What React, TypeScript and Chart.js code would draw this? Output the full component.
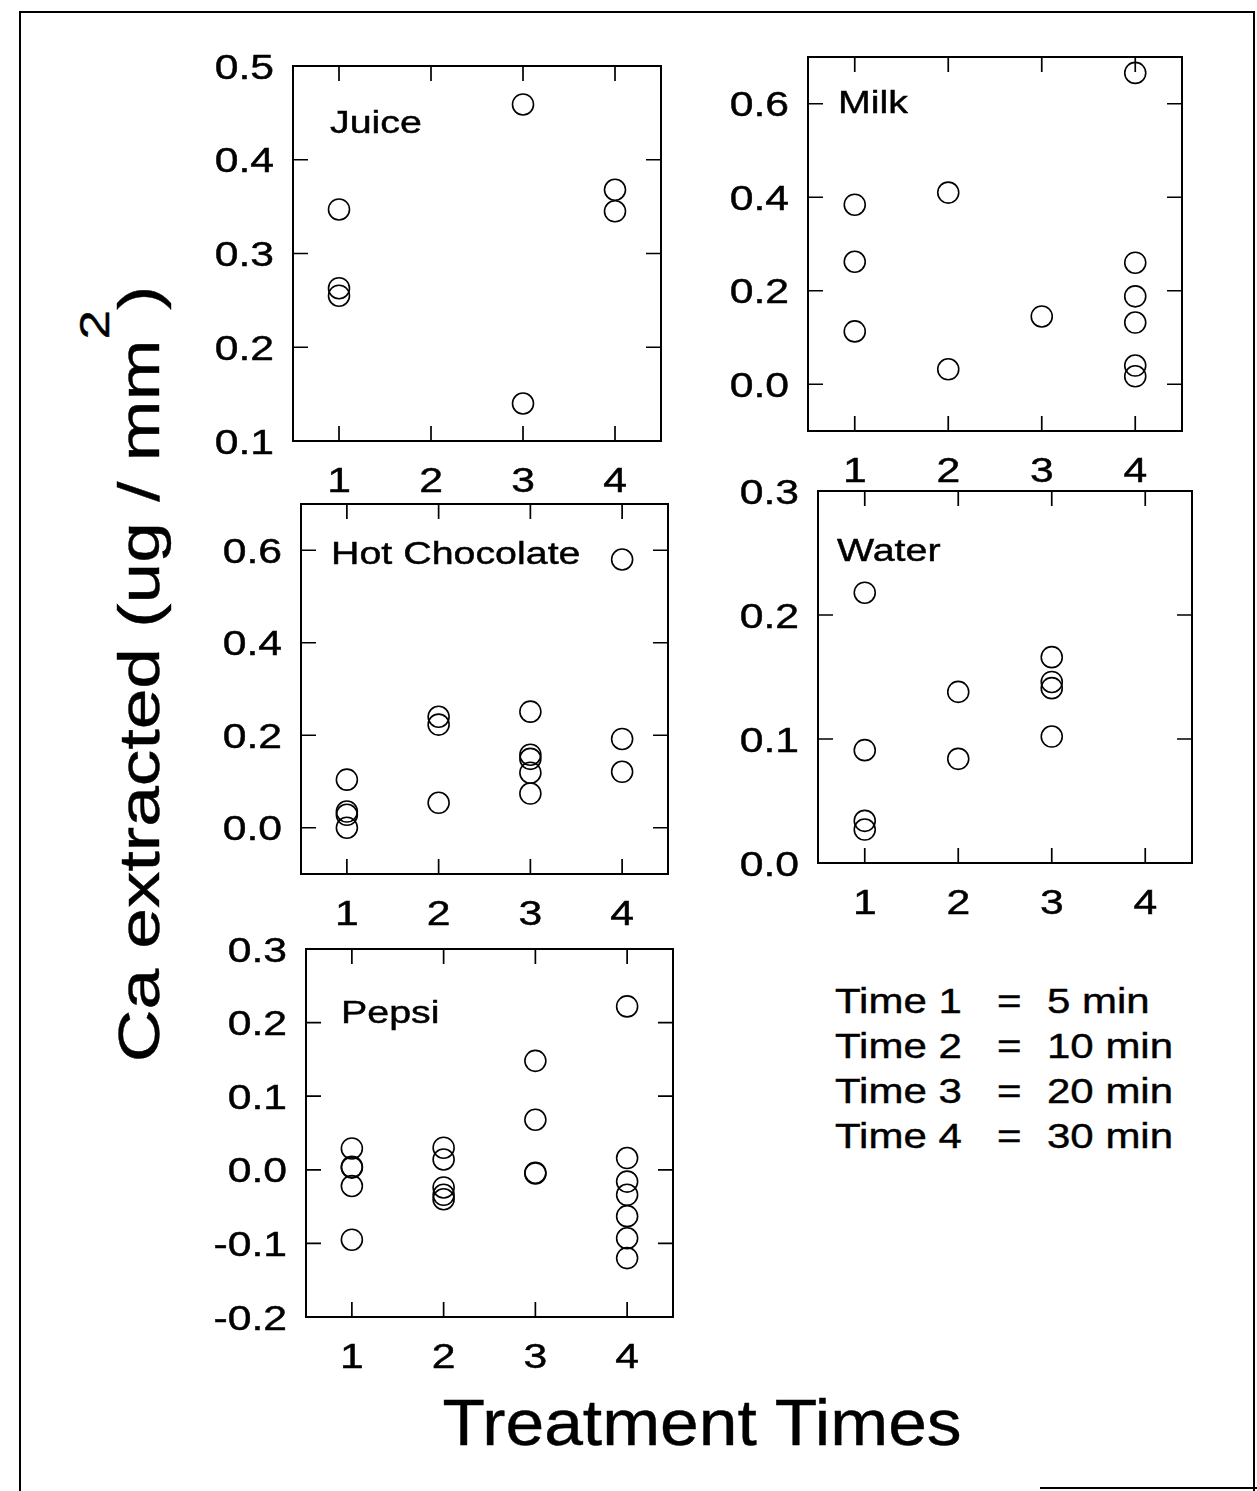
import React, { useEffect, useRef } from "react";
import { Chart, registerables } from "chart.js";

Chart.register(...registerables);

// ---------- data ----------
const xTicks = [1, 2, 3, 4];
const xTickLabels = ["1", "2", "3", "4"];

const juiceTimes = [1, 1, 1, 3, 3, 4, 4];
const juiceValues = [0.347, 0.263, 0.255, 0.459, 0.14, 0.368, 0.345];
const juiceYTicks = [0.1, 0.2, 0.3, 0.4, 0.5];
const juiceYLabels = ["0.1", "0.2", "0.3", "0.4", "0.5"];
const juiceYRange = [0.1, 0.5];

const milkTimes = [1, 1, 1, 2, 2, 3, 4, 4, 4, 4, 4, 4];
const milkValues = [0.384, 0.262, 0.113, 0.41, 0.032, 0.145, 0.666, 0.26, 0.188, 0.132, 0.04, 0.017];
const milkYTicks = [0.0, 0.2, 0.4, 0.6];
const milkYLabels = ["0.0", "0.2", "0.4", "0.6"];
const milkYRange = [-0.1, 0.7];

const hotTimes = [1, 1, 1, 1, 2, 2, 2, 3, 3, 3, 3, 3, 4, 4, 4];
const hotValues = [0.104, 0.035, 0.028, 0.0, 0.24, 0.223, 0.054, 0.251, 0.158, 0.149, 0.119, 0.074, 0.58, 0.192, 0.121];
const hotYTicks = [0.0, 0.2, 0.4, 0.6];
const hotYLabels = ["0.0", "0.2", "0.4", "0.6"];
const hotYRange = [-0.1, 0.7];

const waterTimes = [1, 1, 1, 1, 2, 2, 3, 3, 3, 3];
const waterValues = [0.218, 0.091, 0.034, 0.027, 0.138, 0.084, 0.166, 0.146, 0.141, 0.102];
const waterYTicks = [0.0, 0.1, 0.2, 0.3];
const waterYLabels = ["0.0", "0.1", "0.2", "0.3"];
const waterYRange = [0.0, 0.3];

const pepsiTimes = [1, 1, 1, 1, 1, 2, 2, 2, 2, 2, 3, 3, 3, 3, 4, 4, 4, 4, 4, 4, 4];
const pepsiValues = [
  0.029, 0.004, 0.003, -0.022, -0.095,
  0.03, 0.014, -0.024, -0.034, -0.04,
  0.148, 0.068, -0.004, -0.005,
  0.222, 0.016, -0.016, -0.034, -0.063, -0.093, -0.12,
];
const pepsiYTicks = [-0.2, -0.1, 0.0, 0.1, 0.2, 0.3];
const pepsiYLabels = ["-0.2", "-0.1", "0.0", "0.1", "0.2", "0.3"];
const pepsiYRange = [-0.2, 0.3];

const legendTimes = ["Time 1", "Time 2", "Time 3", "Time 4"];
const legendDurations = ["5 min", "10 min", "20 min", "30 min"];

// ---------- layout ----------
const FONT = '"Liberation Sans", Arial, Helvetica, sans-serif';
const PAD = { left: 110, top: 25, right: 25, bottom: 65 };

type PanelDef = {
  title: string;
  times: number[];
  values: number[];
  yTicks: number[];
  yLabels: string[];
  yRange: number[];
  frame: { left: number; top: number; right: number; bottom: number };
  titleOffset: { dx: number; dy: number };
};

const panels: PanelDef[] = [
  { title: "Juice", times: juiceTimes, values: juiceValues, yTicks: juiceYTicks, yLabels: juiceYLabels, yRange: juiceYRange,
    frame: { left: 293, top: 66, right: 661, bottom: 441 }, titleOffset: { dx: 37, dy: 67 } },
  { title: "Milk", times: milkTimes, values: milkValues, yTicks: milkYTicks, yLabels: milkYLabels, yRange: milkYRange,
    frame: { left: 808, top: 57, right: 1182, bottom: 431 }, titleOffset: { dx: 30, dy: 56 } },
  { title: "Hot Chocolate", times: hotTimes, values: hotValues, yTicks: hotYTicks, yLabels: hotYLabels, yRange: hotYRange,
    frame: { left: 301, top: 504, right: 668, bottom: 874 }, titleOffset: { dx: 30, dy: 60 } },
  { title: "Water", times: waterTimes, values: waterValues, yTicks: waterYTicks, yLabels: waterYLabels, yRange: waterYRange,
    frame: { left: 818, top: 491, right: 1192, bottom: 863 }, titleOffset: { dx: 19, dy: 70 } },
  { title: "Pepsi", times: pepsiTimes, values: pepsiValues, yTicks: pepsiYTicks, yLabels: pepsiYLabels, yRange: pepsiYRange,
    frame: { left: 306, top: 949, right: 673, bottom: 1317 }, titleOffset: { dx: 35, dy: 74 } },
];

function drawStretched(ctx: CanvasRenderingContext2D, text: string, x: number, y: number, sx: number, align: CanvasTextAlign) {
  ctx.save();
  ctx.translate(x, y);
  ctx.scale(sx, 1);
  ctx.textAlign = align;
  ctx.textBaseline = "alphabetic";
  ctx.lineWidth = 0.45;
  ctx.strokeStyle = "#000";
  ctx.fillText(text, 0, 0);
  ctx.strokeText(text, 0, 0);
  ctx.restore();
}

function Panel({ def }: { def: PanelDef }) {
  const ref = useRef<HTMLCanvasElement | null>(null);
  const f = def.frame;
  const w = f.right - f.left + PAD.left + PAD.right;
  const h = f.bottom - f.top + PAD.top + PAD.bottom;

  useEffect(() => {
    if (!ref.current) return;
    const framePlugin = {
      id: "frameTicks",
      afterDraw(chart: any) {
        const ctx = chart.ctx as CanvasRenderingContext2D;
        const a = chart.chartArea;
        const xs = chart.scales.x;
        const ys = chart.scales.y;
        ctx.save();
        ctx.strokeStyle = "#000";
        ctx.fillStyle = "#000";
        ctx.lineWidth = 2;
        ctx.strokeRect(a.left, a.top, a.right - a.left, a.bottom - a.top);
        ctx.lineWidth = 1.7;
        const TL = 15;
        ctx.font = `35px ${FONT}`;
        def.yTicks.forEach((v, i) => {
          const py = ys.getPixelForValue(v);
          ctx.beginPath();
          ctx.moveTo(a.left, py);
          ctx.lineTo(a.left + TL, py);
          ctx.moveTo(a.right, py);
          ctx.lineTo(a.right - TL, py);
          ctx.stroke();
          drawStretched(ctx, def.yLabels[i], a.left - 19, py + 12.5, 1.22, "right");
        });
        xTicks.forEach((v, i) => {
          const px = xs.getPixelForValue(v);
          ctx.beginPath();
          ctx.moveTo(px, a.bottom);
          ctx.lineTo(px, a.bottom - TL);
          ctx.moveTo(px, a.top);
          ctx.lineTo(px, a.top + TL);
          ctx.stroke();
          drawStretched(ctx, xTickLabels[i], px, a.bottom + 38 + 12.5, 1.22, "center");
        });
        ctx.font = `31px ${FONT}`;
        drawStretched(ctx, def.title, a.left + def.titleOffset.dx, a.top + def.titleOffset.dy, 1.27, "left");
        ctx.restore();
      },
    };

    const chart = new Chart(ref.current, {
      type: "scatter",
      data: {
        datasets: [
          {
            data: def.times.map((t, i) => ({ x: t, y: def.values[i] })),
            pointStyle: "circle",
            pointRadius: 10.5,
            pointBorderWidth: 1.6,
            borderColor: "#000",
            pointBorderColor: "#000",
            backgroundColor: "rgba(0,0,0,0)",
            pointBackgroundColor: "rgba(0,0,0,0)",
            clip: false as any,
          },
        ],
      },
      options: {
        responsive: false,
        animation: false,
        events: [],
        layout: { padding: PAD },
        plugins: { legend: { display: false }, tooltip: { enabled: false } },
        scales: {
          x: { type: "linear", min: 0.5, max: 4.5, display: false },
          y: { type: "linear", min: def.yRange[0], max: def.yRange[1], display: false },
        },
      },
      plugins: [framePlugin],
    });
    return () => chart.destroy();
  }, [def]);

  return (
    <canvas
      ref={ref}
      width={w}
      height={h}
      style={{ position: "absolute", left: f.left - PAD.left, top: f.top - PAD.top, width: w, height: h }}
    />
  );
}

export default function App() {
  const textBase: React.CSSProperties = {
    position: "absolute",
    fontFamily: FONT,
    color: "#000",
    lineHeight: 1,
    whiteSpace: "nowrap",
    margin: 0,
    WebkitTextStroke: "0.4px #000",
  };
  return (
    <div style={{ position: "absolute", left: 0, top: 0, width: 1257, height: 1491, background: "#fff", overflow: "hidden" }}>
      <div style={{ position: "absolute", left: 19, top: 11, width: 1232, height: 1490, borderLeft: "2px solid #000", borderTop: "2px solid #000", borderRight: "2px solid #000" }} />
      <div style={{ position: "absolute", left: 1040, top: 1487, width: 217, height: 2, background: "#000" }} />

      {panels.map((p) => (
        <Panel key={p.title} def={p} />
      ))}

      <div
        style={{
          ...textBase,
          left: 139,
          top: 674,
          fontSize: 58,
          transform: "translate(-50%, -50%) rotate(-90deg) scale(1.26, 1)",
        }}
      >
        Ca extracted (ug / mm
        <span style={{ fontSize: 42, position: "relative", top: -50 }}>2</span>)
      </div>

      <div
        style={{
          ...textBase,
          left: 402,
          top: 1390,
          width: 600,
          textAlign: "center",
          fontSize: 65,
          transform: "scaleX(1.07)",
        }}
      >
        Treatment Times
      </div>

      {legendTimes.map((t, i) => {
        const top = 983 + i * 45;
        const s: React.CSSProperties = { ...textBase, fontSize: 35, top, transform: "scaleX(1.2)", transformOrigin: "left center" };
        return (
          <React.Fragment key={t}>
            <div style={{ ...s, left: 835 }}>{t}</div>
            <div style={{ ...s, left: 997 }}>=</div>
            <div style={{ ...s, left: 1047 }}>{legendDurations[i]}</div>
          </React.Fragment>
        );
      })}
    </div>
  );
}
